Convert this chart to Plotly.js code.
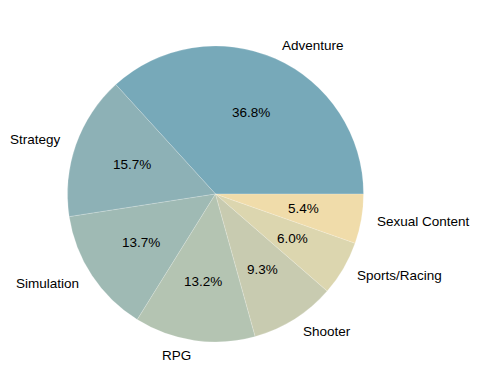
<!DOCTYPE html>
<html>
<head>
<meta charset="utf-8">
<script src="https://cdn.plot.ly/plotly-3.0.1.min.js"></script>
<style>html,body{margin:0;padding:0;background:#fff;}#chart{width:481px;height:389px;}</style>
</head>
<body>
<div id="chart"></div>
<script>
const categories = ["Adventure", "Strategy", "Simulation", "RPG", "Shooter", "Sports/Racing", "Sexual Content"];
const shares = [36.8, 15.7, 13.7, 13.2, 9.3, 6.0, 5.4];
const colors = ["#77a9b9", "#8db1b6", "#9fbab4", "#b4c4b2", "#c8cbb0", "#dcd6af", "#f0dcaa"];

const W = 481, H = 389;
const cx = 215.5, cy = 194, R = 148; // pie centre (px from top-left) and radius
const fontFam = "Liberation Sans, Arial, sans-serif";
const fs = 13.5;

const total = shares.reduce((a, b) => a + b, 0);
const annotations = [];
let cum = 0;
shares.forEach((v, i) => {
  const frac = v / total;
  const mid = (cum + frac / 2) * 2 * Math.PI;
  cum += frac;
  const c = Math.cos(mid), s = Math.sin(mid);
  // outer label
  annotations.push({
    xref: "paper", yref: "paper",
    x: (cx + 1.1 * R * c) / W,
    y: (H - cy + 1.1 * R * s) / H,
    text: categories[i], showarrow: false,
    xanchor: c > 0 ? "left" : "right", yanchor: "middle",
    borderpad: 0,
    font: {family: fontFam, size: fs, color: "#000"}
  });
  // percentage label
  annotations.push({
    xref: "paper", yref: "paper",
    x: (cx + 0.6 * R * c) / W,
    y: (H - cy + 0.6 * R * s) / H,
    text: (frac * 100).toFixed(1) + "%", showarrow: false,
    xanchor: "center", yanchor: "middle",
    borderpad: 0,
    font: {family: fontFam, size: fs, color: "#000"}
  });
});

// Plotly (counterclockwise) ends the first slice at `rotation`; make it start at 3 o'clock
const rotation = 90 - 360 * shares[0] / total;

const trace = {
  type: "pie",
  labels: categories,
  values: shares,
  sort: false,
  direction: "counterclockwise",
  rotation: rotation,
  textinfo: "none",
  marker: {colors: colors, line: {color: "rgba(255,255,255,0.35)", width: 0.5}},
  domain: {x: [(cx - R) / W, (cx + R) / W], y: [(H - cy - R) / H, (H - cy + R) / H]},
  hoverinfo: "label+percent"
};

const layout = {
  width: W, height: H,
  margin: {l: 0, r: 0, t: 0, b: 0},
  paper_bgcolor: "#fff",
  showlegend: false,
  annotations: annotations,
  font: {family: fontFam, size: fs}
};

Plotly.newPlot("chart", [trace], layout, {displayModeBar: false, staticPlot: true});
</script>
</body>
</html>
